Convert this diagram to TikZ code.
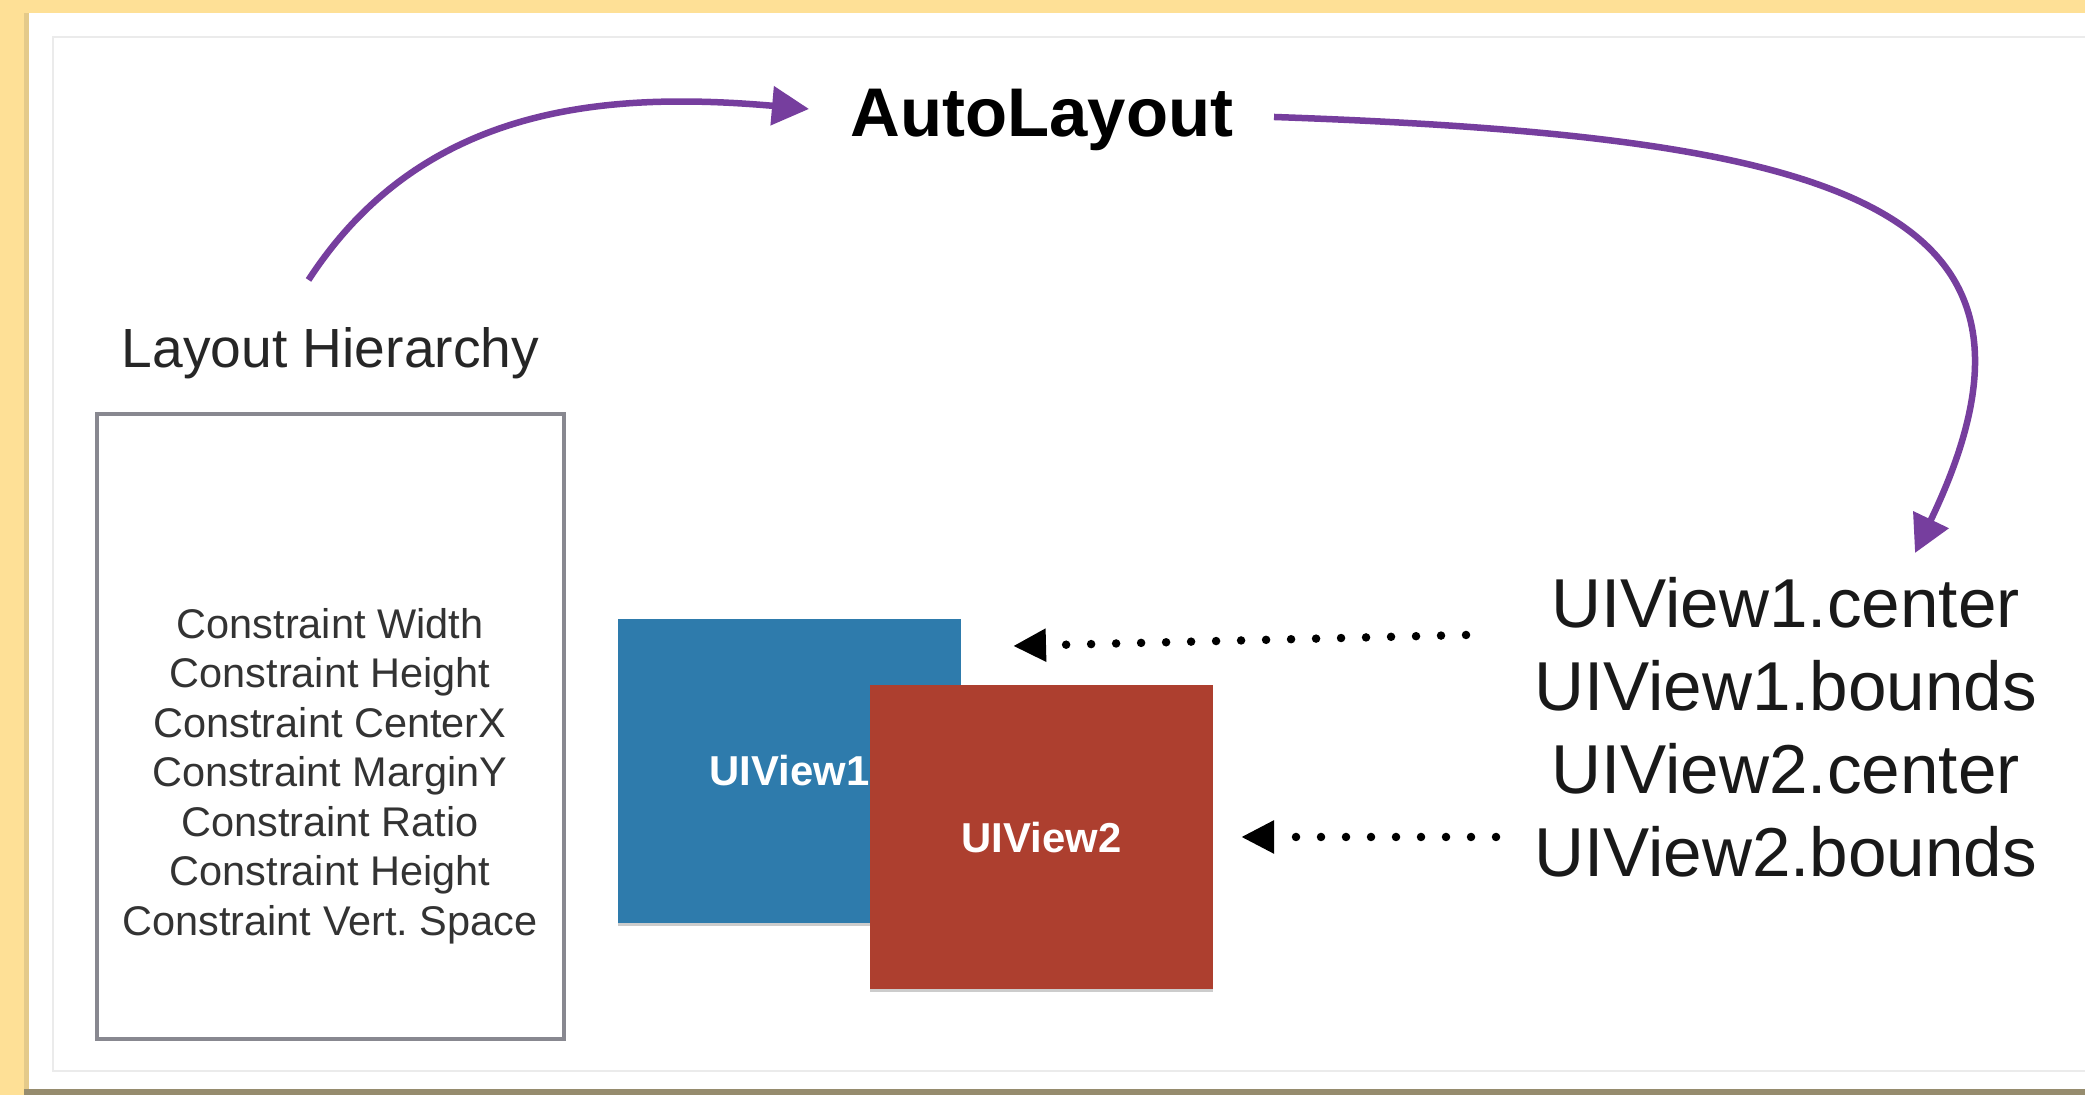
\documentclass[tikz,border=0pt]{standalone}
\usepackage{fontspec}
\setmainfont{Liberation Sans}
\usepackage{tikz}
\usetikzlibrary{arrows.meta,positioning,shadows}
\definecolor{pagebg}{RGB}{254,224,150}
\definecolor{pageedge}{RGB}{228,202,138}
\definecolor{pagefoot}{RGB}{150,140,110}
\definecolor{viewblue}{RGB}{46,123,172}
\definecolor{viewred}{RGB}{173,63,47}
\definecolor{flowpurple}{RGB}{118,62,158}
\definecolor{boxgray}{RGB}{136,136,144}

\begin{document}
\begin{tikzpicture}[
  title/.style={font=\fontsize{19.6pt}{23pt}\selectfont\bfseries},
  caption/.style={font=\fontsize{15.7pt}{19pt}\selectfont, text=black!85},
  constraints/.style={font=\fontsize{11.8pt}{14.1pt}\selectfont, align=center, text=black!80},
  props/.style={font=\fontsize{19.7pt}{23.6pt}\selectfont, align=center, text=black!90},
  hbox/.style={draw=boxgray, line width=0.04cm, minimum width=4.67cm, minimum height=6.25cm},
  view/.style={minimum width=3.43cm, minimum height=3.04cm, text=white, inner sep=0pt,
    font=\fontsize{11.9pt}{14pt}\selectfont\bfseries,
    drop shadow={shadow xshift=0cm, shadow yshift=-0.03cm, fill=black, opacity=0.2}},
  flow/.style={draw=flowpurple, line width=0.065cm, -{Triangle[length=0.37cm,width=0.38cm]}},
  dots/.style={line width=0.085cm, line cap=round, dash pattern=on 0pt off 0.25cm,
    -{Triangle[length=0.33cm,width=0.31cm]}}
]
\useasboundingbox (0cm,0cm) rectangle (20.85cm,10.95cm);
\fill[pagebg] (0cm,0cm) rectangle (20.85cm,10.95cm);
\fill[pagefoot] (0.24cm,0cm) rectangle (20.85cm,0.06cm);
\fill[pageedge] (0.24cm,0.06cm) rectangle (0.29cm,10.82cm);
\fill[white] (0.29cm,0.06cm) rectangle (20.85cm,10.82cm);
\draw[black!8, line width=0.02cm] (20.85cm,10.58cm) -- (0.53cm,10.58cm) -- (0.53cm,0.24cm) -- (20.85cm,0.24cm);

\node[title] (auto) at (10.42cm,9.75cm) {AutoLayout};
\node[caption] (hier) at (3.305cm,7.42cm) {Layout Hierarchy};
\node[hbox] (hierbox) at (3.305cm,3.685cm) {};
\node[constraints] (cons) at (3.30cm,3.19cm) {Constraint Width\\Constraint Height\\Constraint CenterX\\Constraint MarginY\\Constraint Ratio\\Constraint Height\\Constraint Vert.\ Space};

\node[view, fill=viewblue] (v1) at (7.895cm,3.24cm) {UIView1};
\node[view, fill=viewred] (v2) at (10.415cm,2.575cm) {UIView2};

\node[props] (props) at (17.855cm,3.68cm) {UIView1.center\\UIView1.bounds\\UIView2.center\\UIView2.bounds};

\draw[flow] ([shift={(-0.22cm,0.73cm)}]hier.center) .. controls +(1.13cm,1.74cm) and +(-2.06cm,0.18cm) .. ([shift={(-2.33cm,0.11cm)}]auto.center);
\draw[flow] ([shift={(2.32cm,0.03cm)}]auto.center) .. controls +(5.7cm,-0.2cm) and +(1.67cm,3.48cm) .. ([shift={(1.295cm,1.74cm)}]props.center);

\coordinate (d1s) at (14.66cm,4.60cm);
\coordinate (d1e) at (10.13cm,4.49cm);
\coordinate (d2s) at (14.96cm,2.58cm);
\coordinate (d2e) at (12.41cm,2.58cm);
\draw[dots] (d1s) -- (d1e);
\draw[dots] (d2s) -- (d2e);
\end{tikzpicture}
\end{document}
